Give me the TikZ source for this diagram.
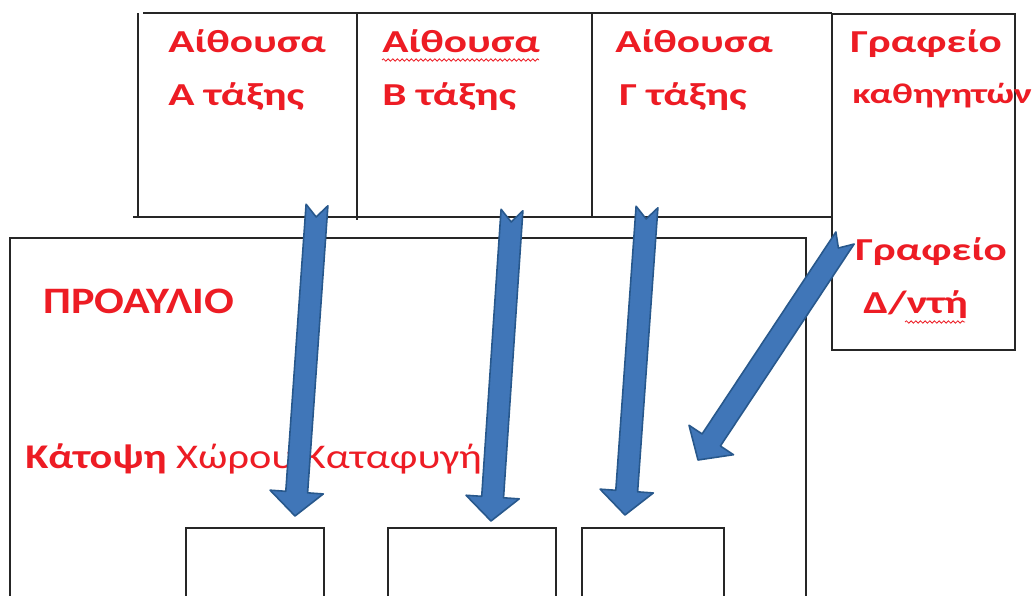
\documentclass[tikz,border=0pt]{standalone}
\usepackage{fontspec}
\setmainfont{Carlito}[FakeStretch=1.35]
\newfontfamily\yardfont{Carlito}[FakeStretch=1.18]
\newfontfamily\planfont{Carlito}[FakeStretch=1.22]
\usepackage{xcolor}
\usetikzlibrary{calc,decorations.pathmorphing}

\definecolor{labelred}{RGB}{237,28,36}
\definecolor{arrowfill}{RGB}{64,118,184}
\definecolor{arrowedge}{RGB}{40,88,140}

\tikzset{
    wall/.style={line width=1.1pt, draw=black!85},
    roomtext/.style={text=labelred, font=\fontsize{24}{28}\selectfont\bfseries, anchor=base west, inner sep=0pt},
    spellwave/.style={draw=labelred, line width=0.6pt, decorate, decoration={snake, amplitude=0.9pt, segment length=3.5pt}},
    exitarrow/.style={fill=arrowfill, draw=arrowedge, line width=1.2pt, line join=round}
}

% block arrow from tail #1 to tip #2
\newcommand{\shaftw}{8.2pt}
\newcommand{\headw}{20pt}
\newcommand{\headlen}{18pt}
\newcommand{\notch}{9pt}
\newcommand{\blockarrow}[2]{%
    \coordinate (hb) at ($(#2)!\headlen!(#1)$);
    \draw[exitarrow] ($(#1)!\shaftw!90:(#2)$) -- ($(hb)!\shaftw!90:(#2)$)
        -- ($(hb)!\headw!90:(#2)$) -- (#2) -- ($(hb)!\headw!-90:(#2)$)
        -- ($(hb)!\shaftw!-90:(#2)$) -- ($(#1)!\shaftw!-90:(#2)$)
        -- ($(#1)!\notch!(#2)$) -- cycle;
}

\begin{document}
\begin{tikzpicture}[x=0.75pt,y=-0.75pt]
\clip (0,0) rectangle (1033,596);
\fill[white] (0,0) rectangle (1033,596);

% classrooms
\draw[wall] (143,13) -- (832,13);
\draw[wall] (138,13) -- (138,217);
\draw[wall] (133,217) -- (832,217);
\draw[wall] (357,13) -- (357,220);
\draw[wall] (592,13) -- (592,217);
\draw[wall] (832,14) rectangle (1015,350);

% courtyard and shelters
\draw[wall] (10,600) -- (10,238) -- (806,238) -- (806,600);
\draw[wall] (186,600) |- (324,528) -- (324,600);
\draw[wall] (388,600) |- (556,528) -- (556,600);
\draw[wall] (582,600) |- (724,528) -- (724,600);

\node[roomtext] (roomA) at (168,52) {Αίθουσα};
\node[roomtext] (roomAb) at (168,105) {Α τάξης};
\node[roomtext] (roomB) at (382,52) {Αίθουσα};
\node[roomtext] (roomBb) at (382,105) {Β τάξης};
\node[roomtext] (roomC) at (615,52) {Αίθουσα};
\node[roomtext] (roomCb) at (619,105) {Γ τάξης};
\node[roomtext] (staff) at (850,52) {Γραφείο};
\node[roomtext, font=\fontsize{21.3}{26}\selectfont\bfseries] (staffb) at (852,103) {καθηγητών};
\node[roomtext] (head) at (855,260) {Γραφείο};
\node[roomtext] (headb) at (863,313) {Δ/ντή};
\node[roomtext, font=\yardfont\fontsize{28}{32}\selectfont\bfseries] (yard) at (43,313) {ΠΡΟΑΥΛΙΟ};
\node[roomtext, font=\planfont\fontsize{26}{30}\selectfont] (plan) at (25,468) {\textbf{Κάτοψη} Χώρου Καταφυγή};

\draw[spellwave] (382,60) -- (539,60);
\draw[spellwave] (905,322) -- (965,322);

% exits
\coordinate (tailA) at (317,205);
\coordinate (tipA) at (295,516);
\coordinate (tailB) at (512,210);
\coordinate (tipB) at (491,521);
\coordinate (tailC) at (647,207);
\coordinate (tipC) at (625,515);
\coordinate (tailD) at (845,238);
\coordinate (tipD) at (698,460);

\blockarrow{tailA}{tipA}
\blockarrow{tailB}{tipB}
\blockarrow{tailC}{tipC}
\blockarrow{tailD}{tipD}
\end{tikzpicture}
\end{document}
